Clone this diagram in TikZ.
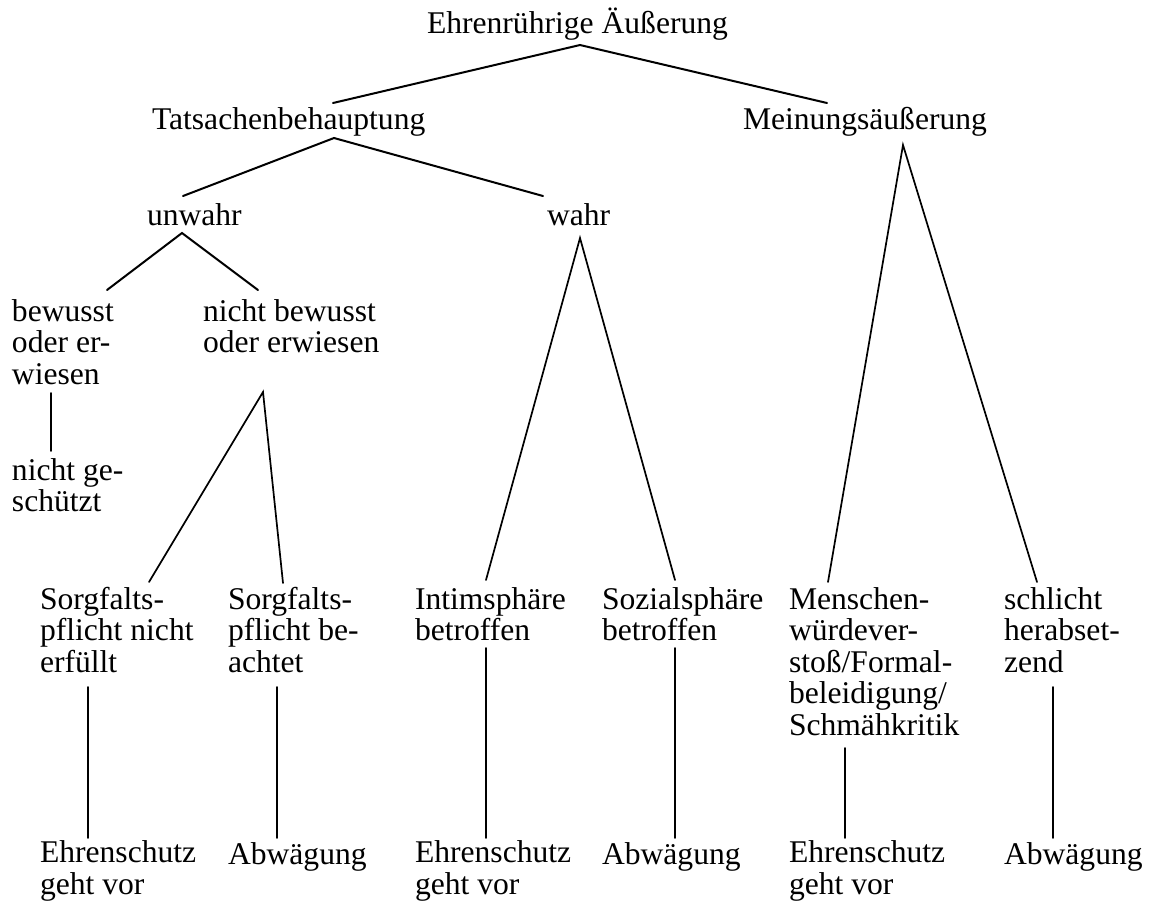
\documentclass[tikz,border=0pt]{standalone}
\usepackage{fontspec}
\setmainfont{Liberation Serif}
\begin{document}
\begin{tikzpicture}[x=1pt,y=-1pt,
  lbl/.style={anchor=base west,inner sep=0pt,outer sep=0pt,align=left,
    font=\fontsize{31.6pt}{31.5pt}\selectfont},
  edge/.style={line width=1.7pt,line cap=round},
  topedge/.style={line width=2pt,line cap=round}]
\useasboundingbox (0,0) rectangle (1158,906);
% text nodes (anchored at the baseline of their last line)
\node[lbl] (root) at (427,33) {Ehrenrührige Äußerung};
\node[lbl] (tat) at (152,129) {Tatsachenbehauptung};
\node[lbl] (mein) at (743,129) {Meinungsäußerung};
\node[lbl] (unwahr) at (147,225) {unwahr};
\node[lbl] (wahr) at (547,225) {wahr};
\node[lbl] (bew) at (12,384) {bewusst\\oder er-\\wiesen};
\node[lbl] (nbew) at (203,352.5) {nicht bewusst\\oder erwiesen};
\node[lbl] (ng) at (12,511.5) {nicht ge-\\schützt};
\node[lbl] (s1) at (40,672) {Sorgfalts-\\pflicht nicht\\erfüllt};
\node[lbl] (s2) at (228,672) {Sorgfalts-\\pflicht be-\\achtet};
\node[lbl] (intim) at (415,640.5) {Intimsphäre\\betroffen};
\node[lbl] (sozial) at (602,640.5) {Sozialsphäre\\betroffen};
\node[lbl] (men) at (789,735) {Menschen-\\würdever-\\stoß/Formal-\\beleidigung/\\Schmähkritik};
\node[lbl] (schl) at (1004,672) {schlicht\\herabset-\\zend};
\node[lbl] (e1) at (40,894) {Ehrenschutz\\geht vor};
\node[lbl] (a1) at (228,864) {Abwägung};
\node[lbl] (e2) at (415,894) {Ehrenschutz\\geht vor};
\node[lbl] (a2) at (602,864) {Abwägung};
\node[lbl] (e3) at (789,894) {Ehrenschutz\\geht vor};
\node[lbl] (a3) at (1004,864) {Abwägung};
% attachment points
\coordinate (root-s) at (580,45);
\coordinate (tat-n) at (333,103);
\coordinate (mein-n) at (827,103);
\coordinate (tat-s) at (334,138);
\coordinate (unwahr-n) at (183,196);
\coordinate (wahr-n) at (543,196);
\coordinate (unwahr-s) at (182,233);
\coordinate (bew-n) at (107,290);
\coordinate (nbew-n) at (258,290);
\coordinate (bew-s) at (51,393);
\coordinate (ng-n) at (51,451);
\coordinate (nbew-s) at (263,392);
\coordinate (s1-n) at (149,582);
\coordinate (s2-n) at (283,583);
\coordinate (s1-s) at (88,687);
\coordinate (e1-n) at (88,838);
\coordinate (s2-s) at (277,687);
\coordinate (a1-n) at (277,838);
\coordinate (wahr-s) at (580,238);
\coordinate (intim-n) at (486,580);
\coordinate (sozial-n) at (675,580);
\coordinate (intim-s) at (486,648);
\coordinate (e2-n) at (486,838);
\coordinate (sozial-s) at (675,648);
\coordinate (a2-n) at (675,838);
\coordinate (mein-s) at (903,145);
\coordinate (men-n) at (828,582);
\coordinate (schl-n) at (1037,582);
\coordinate (men-s) at (845,748);
\coordinate (e3-n) at (845,838);
\coordinate (schl-s) at (1053,687);
\coordinate (a3-n) at (1053,838);
% connectors
\draw[topedge] (tat-n) -- (root-s) -- (mein-n);
\draw[topedge] (unwahr-n) -- (tat-s) -- (wahr-n);
\draw[topedge] (bew-n) -- (unwahr-s) -- (nbew-n);
\draw[edge] (bew-s) -- (ng-n);
\draw[edge] (s1-n) -- (nbew-s) -- (s2-n);
\draw[edge] (s1-s) -- (e1-n);
\draw[edge] (s2-s) -- (a1-n);
\draw[edge] (intim-n) -- (wahr-s) -- (sozial-n);
\draw[edge] (intim-s) -- (e2-n);
\draw[edge] (sozial-s) -- (a2-n);
\draw[edge] (men-n) -- (mein-s) -- (schl-n);
\draw[edge] (men-s) -- (e3-n);
\draw[edge] (schl-s) -- (a3-n);
\end{tikzpicture}
\end{document}
